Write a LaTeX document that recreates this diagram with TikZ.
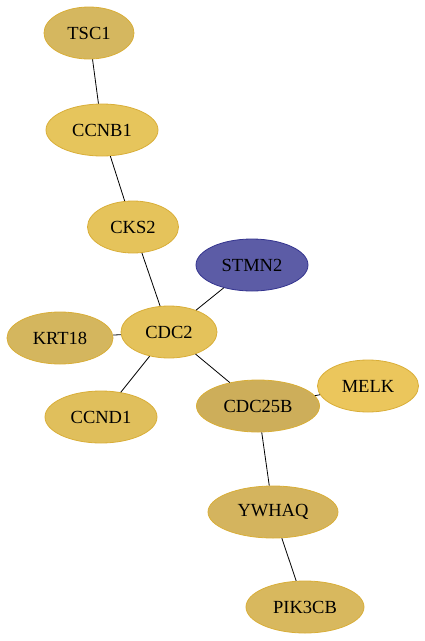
\documentclass[tikz,border=0pt]{standalone}
\usepackage{fontspec}
\setmainfont{Liberation Serif}
\usepackage{tikz}
\usetikzlibrary{shapes.geometric}

\definecolor{goldline}{HTML}{D9AE38}
\definecolor{blueline}{HTML}{34348F}

\tikzset{
  gene/.style={ellipse, draw=goldline, line width=0.8pt, inner sep=0pt,
    minimum height=52pt, font=\fontsize{18.5}{20}\selectfont},
  link/.style={black, line width=0.8pt}
}

\begin{document}
\begin{tikzpicture}[x=1pt, y=-1pt]
  \useasboundingbox (0,0) rectangle (425,641);
  \node (tsc1) at (89,33) [gene, fill={rgb,255:red,213;green,183;blue,95}, minimum width=90pt] {TSC1};
  \node (ccnb1) at (102,130) [gene, fill={rgb,255:red,230;green,197;blue,92}, minimum width=112pt] {CCNB1};
  \node (cks2) at (133,227) [gene, fill={rgb,255:red,229;green,195;blue,91}, minimum width=91pt] {CKS2};
  \node (stmn2) at (252,265) [gene, draw=blueline, fill={rgb,255:red,92;green,92;blue,166}, minimum width=112pt] {STMN2};
  \node (cdc2) at (169,332) [gene, fill={rgb,255:red,228;green,194;blue,91}, minimum width=96pt] {CDC2};
  \node (krt18) at (60,338) [gene, fill={rgb,255:red,212;green,182;blue,94}, minimum width=106pt] {KRT18};
  \node (ccnd1) at (101,417) [gene, fill={rgb,255:red,224;green,191;blue,92}, minimum width=112pt] {CCND1};
  \node (cdc25b) at (258,406) [gene, fill={rgb,255:red,205;green,174;blue,90}, minimum width=123pt] {CDC25B};
  \node (melk) at (368,386) [gene, fill={rgb,255:red,235;green,198;blue,92}, minimum width=101pt] {MELK};
  \node (ywhaq) at (273,512) [gene, fill={rgb,255:red,212;green,180;blue,94}, minimum width=130pt] {YWHAQ};
  \node (pik3cb) at (305,607) [gene, fill={rgb,255:red,216;green,184;blue,94}, minimum width=118pt] {PIK3CB};

  \draw [link] (tsc1) -- (ccnb1);
  \draw [link] (ccnb1) -- (cks2);
  \draw [link] (cks2) -- (cdc2);
  \draw [link] (stmn2) -- (cdc2);
  \draw [link] (krt18) -- (cdc2);
  \draw [link] (cdc2) -- (ccnd1);
  \draw [link] (cdc2) -- (cdc25b);
  \draw [link] (cdc25b) -- (melk);
  \draw [link] (cdc25b) -- (ywhaq);
  \draw [link] (ywhaq) -- (pik3cb);
\end{tikzpicture}
\end{document}
